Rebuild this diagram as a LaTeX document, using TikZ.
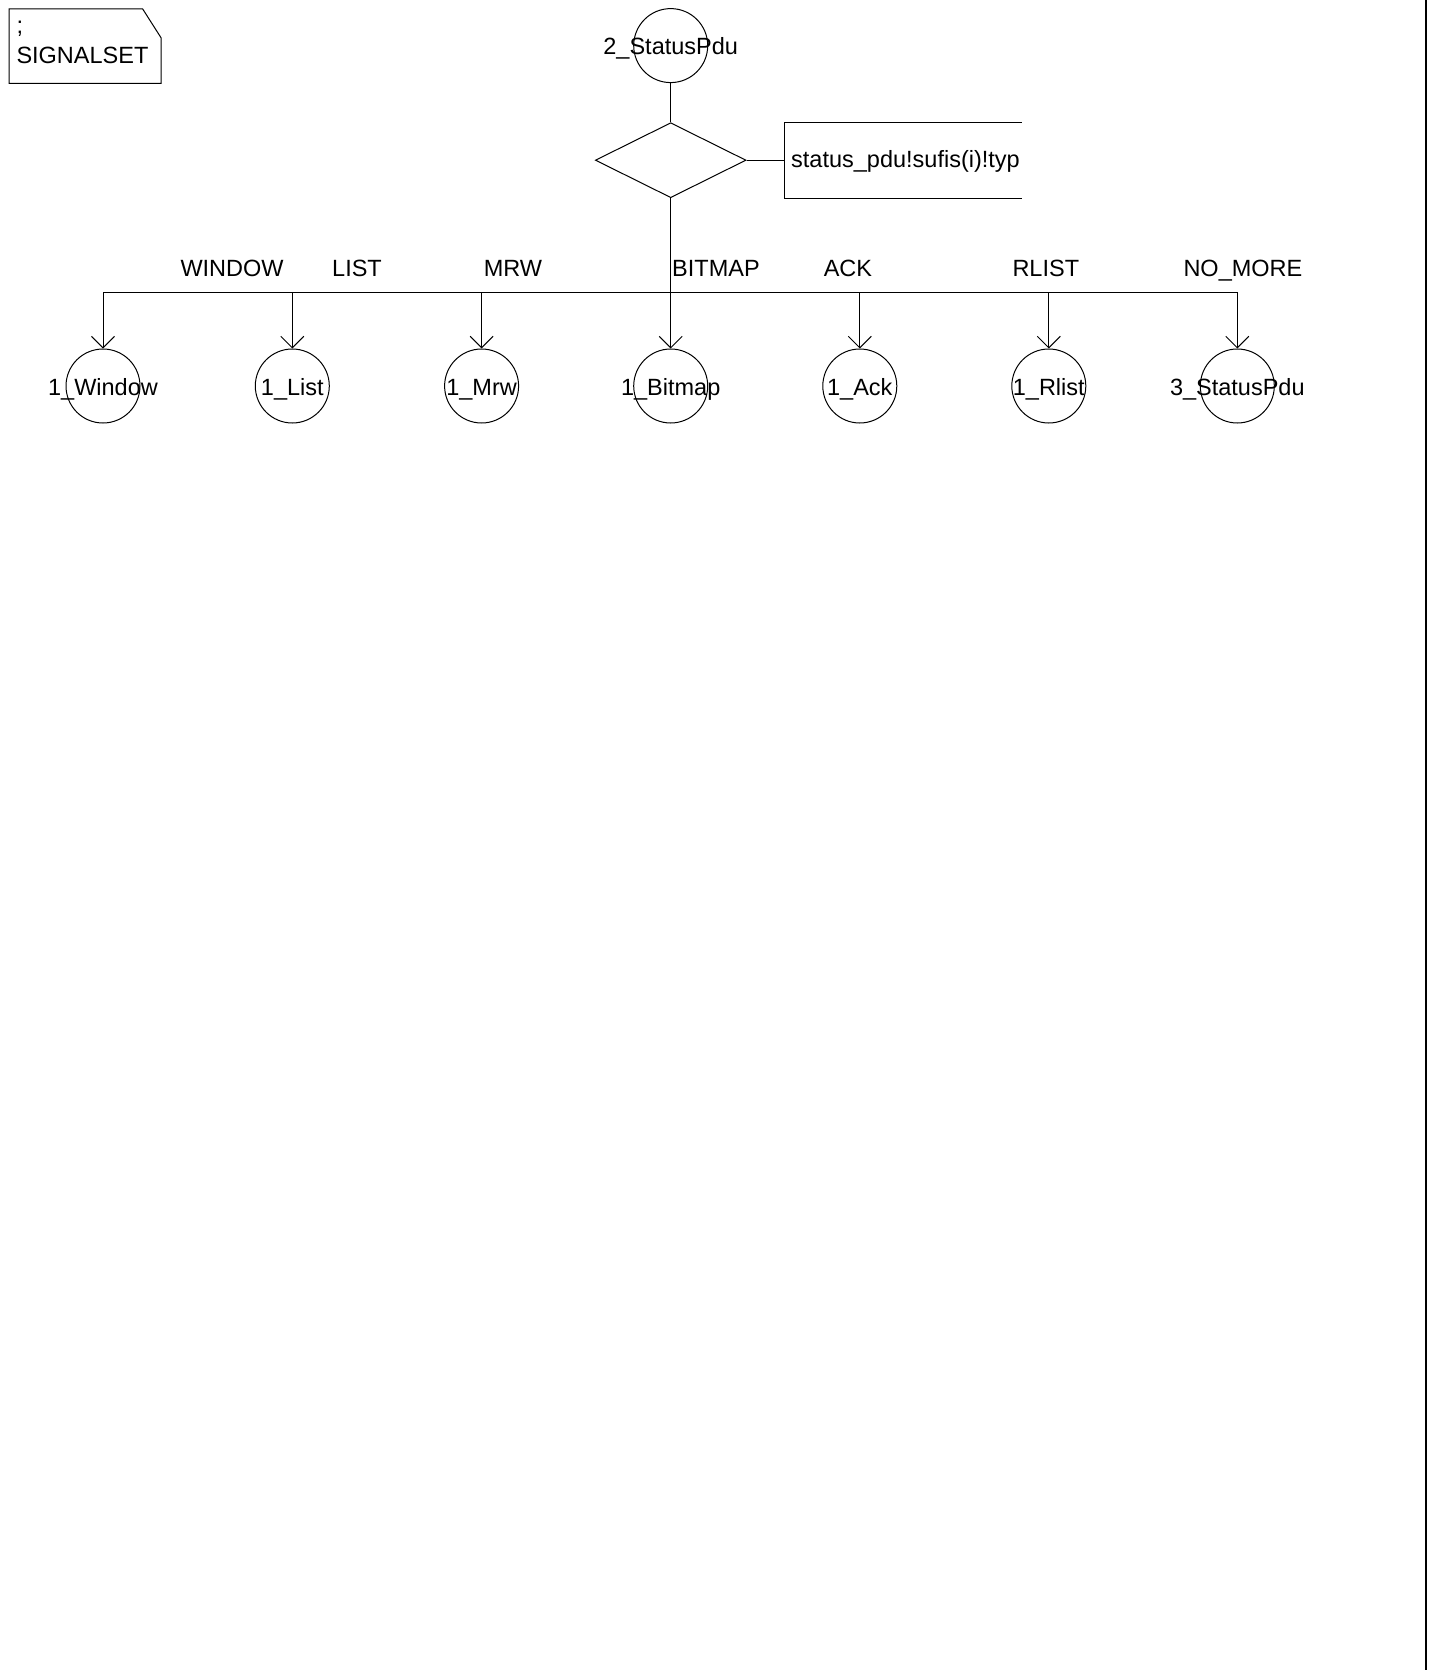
\documentclass[tikz,border=0pt]{standalone}
\usepackage{fontspec}
\setmainfont{Liberation Sans}
\usetikzlibrary{shapes.geometric,arrows.meta}
\begin{document}
\begin{tikzpicture}[x=1pt,y=-1pt,line width=1pt,
  txt/.style={font=\fontsize{23.5}{27}\selectfont, inner sep=0pt, anchor=base},
  lab/.style={txt, anchor=base west},
  conn/.style={draw, circle, minimum size=74pt, inner sep=0pt},
  dec/.style={draw, diamond, minimum width=150.7pt, minimum height=75pt, inner sep=0pt},
  flow/.style={-{Straight Barb[length=11.5pt,width=23pt,line width=1pt]}}]
\useasboundingbox (0,0) rectangle (1430,1670);
% page edge
\draw[line width=2pt] (1426,0) -- (1426,1670);
% SIGNALSET text symbol
\draw (9,9) -- (142.7,9) -- (161,37.7) -- (161,83.3) -- (9,83.3) -- cycle;
\node[lab] (semi) at (16,34) {;};
\node[lab] (sigset) at (16,63.3) {SIGNALSET};
% start connector
\node[conn] (s2) at (670.7,45.6) {};
\node[txt] (s2t) at (670.7,55) {2\_StatusPdu};
% decision
\node[dec] (d) at (670.7,160.2) {};
\draw (784,122.5) -- (1022,122.5);
\draw (784,122.5) -- (784,198) -- (1022,198);
\coordinate (qb) at (784,160.2);
\node[lab] (q) at (790.7,167) {status\_pdu!sufis(i)!typ};
\draw (s2.south) -- (d.north);
\draw (d.east) -- (qb);
% bus
\foreach \i/\x in {1/103,2/292.3,3/481.6,4/670.7,5/859.8,6/1048.8,7/1237.3}{
  \coordinate (j\i) at (\x,292.3);
}
\draw (j1) -- (j7);
% connectors
\node[conn] (c1) at (103,386) {};
\node[conn] (c2) at (292.3,386) {};
\node[conn] (c3) at (481.6,386) {};
\node[conn] (c4) at (670.7,386) {};
\node[conn] (c5) at (859.8,386) {};
\node[conn] (c6) at (1048.8,386) {};
\node[conn] (c7) at (1237.3,386) {};
\node[txt] (t1) at (103,395) {1\_Window};
\node[txt] (t2) at (292.3,395) {1\_List};
\node[txt] (t3) at (481.6,395) {1\_Mrw};
\node[txt] (t4) at (670.7,395) {1\_Bitmap};
\node[txt] (t5) at (859.8,395) {1\_Ack};
\node[txt] (t6) at (1048.8,395) {1\_Rlist};
\node[txt] (t7) at (1237.3,395) {3\_StatusPdu};
\draw[flow] (d.south) -- (c4.north);
\foreach \i in {1,2,3,5,6,7}{
  \draw[flow] (j\i) -- (c\i.north);
}
% answer labels
\node[lab] (l1) at (180,276.7) {WINDOW};
\node[lab] (l2) at (331.7,276.7) {LIST};
\node[lab] (l3) at (483.3,276.7) {MRW};
\node[lab] (l4) at (671.7,276.7) {BITMAP};
\node[lab] (l5) at (823.3,276.7) {ACK};
\node[lab] (l6) at (1012,276.7) {RLIST};
\node[lab] (l7) at (1183,276.7) {NO\_MORE};
\end{tikzpicture}
\end{document}
